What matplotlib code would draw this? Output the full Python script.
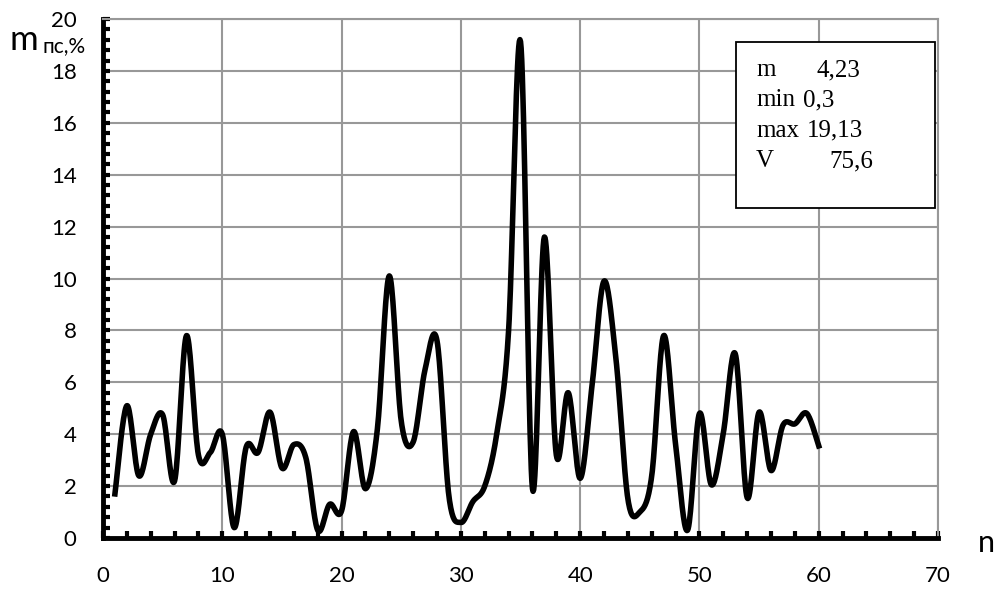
import numpy as np
import matplotlib
matplotlib.use('Agg')
import matplotlib.pyplot as plt
from matplotlib.ticker import MultipleLocator

# values
n = list(range(1, 61))
m_pc = [1.7, 5.1, 2.4, 4.0, 4.75, 2.2, 7.8, 3.2, 3.3, 4.0,
        0.4, 3.5, 3.3, 4.85, 2.7, 3.6, 3.1, 0.3, 1.3, 1.05,
        4.1, 1.9, 4.2, 10.1, 4.5, 3.7, 6.5, 7.6, 1.6, 0.6,
        1.4, 2.0, 4.0, 8.0, 19.13, 1.9, 11.6, 3.2, 5.6, 2.3,
        5.9, 9.9, 6.9, 1.5, 1.0, 2.4, 7.8, 3.6, 0.3, 4.8,
        2.05, 4.05, 7.1, 1.55, 4.85, 2.6, 4.35, 4.4, 4.8, 3.55]

stat_labels = ['m', 'min', 'max', 'V']
stat_values = ['4,23', '0,3', '19,13', '75,6']


def excel_smooth(x, y, steps=20):
    # bezier smoothing like the "smoothed line" option of a spreadsheet
    x = np.asarray(x, float)
    y = np.asarray(y, float)
    px = np.concatenate([[x[0]], x, [x[-1]]])
    py = np.concatenate([[y[0]], y, [y[-1]]])
    t = np.linspace(0, 1, steps, endpoint=False)
    xs, ys = [], []
    for i in range(1, len(px) - 2):
        p0x, p1x, p2x, p3x = px[i - 1], px[i], px[i + 1], px[i + 2]
        p0y, p1y, p2y, p3y = py[i - 1], py[i], py[i + 1], py[i + 2]
        c1x, c1y = p1x + (p2x - p0x) / 6, p1y + (p2y - p0y) / 6
        c2x, c2y = p2x - (p3x - p1x) / 6, p2y - (p3y - p1y) / 6
        b0 = (1 - t) ** 3
        b1 = 3 * (1 - t) ** 2 * t
        b2 = 3 * (1 - t) * t ** 2
        b3 = t ** 3
        xs.append(b0 * p1x + b1 * c1x + b2 * c2x + b3 * p2x)
        ys.append(b0 * p1y + b1 * c1y + b2 * c2y + b3 * p2y)
    xs.append([x[-1]])
    ys.append([y[-1]])
    return np.concatenate(xs), np.concatenate(ys)


fig = plt.figure(figsize=(9.99, 5.90), dpi=100)
ax = fig.add_axes([0.1031, 0.0881, 0.8359, 0.8797])

sx, sy = excel_smooth(n, m_pc)
ax.plot(sx, sy, color='black', lw=4.0, solid_joinstyle='round', zorder=3)

ax.set_xlim(0, 70)
ax.set_ylim(0, 20)
ax.xaxis.set_major_locator(MultipleLocator(10))
ax.xaxis.set_minor_locator(MultipleLocator(2))
ax.yaxis.set_major_locator(MultipleLocator(2))
ax.yaxis.set_minor_locator(MultipleLocator(0.4))
ax.grid(True, which='major', color='#989898', lw=1.5, zorder=1)

for side in ['left', 'bottom']:
    ax.spines[side].set_linewidth(3.5)
    ax.spines[side].set_color('black')
for side in ['top', 'right']:
    ax.spines[side].set_linewidth(1.5)
    ax.spines[side].set_color('#989898')

ax.tick_params(which='both', direction='in', length=5, width=3, color='black',
               top=False, right=False)
ax.tick_params(axis='x', which='major', labelsize=16, pad=20)
ax.tick_params(axis='y', which='major', labelsize=16, pad=19)
for lab in ax.get_xticklabels() + ax.get_yticklabels():
    lab.set_family('Lato')

# stats box
ax.add_patch(plt.Rectangle((53.06, 12.72), 16.7, 6.4, fill=True, facecolor='white',
                           edgecolor='black', lw=1.3, zorder=4))
val_x = [59.82, 58.67, 59.0, 60.93]
for i in range(4):
    yy = 18.03 - i * 1.17
    ax.text(54.74, yy, stat_labels[i], family='Liberation Serif', fontsize=18,
            va='center', ha='left', zorder=5)
    ax.text(val_x[i], yy, stat_values[i], family='Liberation Serif', fontsize=18,
            va='center', ha='left', zorder=5)

fig.text(0.010, 0.915, 'm', family='Lato', fontsize=25, va='baseline')
fig.text(0.043, 0.912, 'пс,%', family='Lato', fontsize=15, va='baseline')
fig.text(0.979, 0.065, 'n', family='Lato', fontsize=22, va='baseline')

fig.savefig('out.png', dpi=100)
